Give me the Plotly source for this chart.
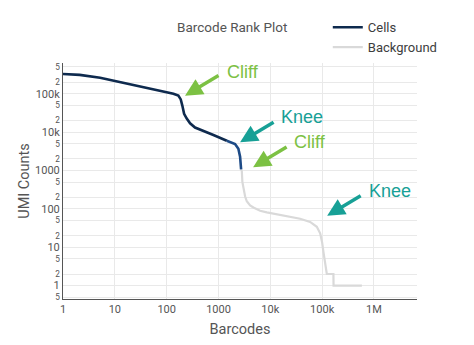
import math
import plotly.graph_objects as go

# ---- data ----
cells_rank = [1, 2.1, 5.2, 12.6, 30.6, 74.6, 100, 135, 168, 187, 201, 217, 244, 283, 353, 511, 798, 1445]
cells_umi = [327000, 309000, 260000, 202000, 158000, 121000, 112000, 100000, 89000, 71000, 48300, 30000,
             22500, 16900, 13100, 10500, 8380, 5940]

mixed_rank = [1445, 2090, 2420, 2611, 2731]
mixed_umi = [5940, 4890, 3670, 2280, 1064]

bg_rank = [2731, 2817, 2893, 3023, 3265, 3516, 4075, 4720, 6350, 8550, 17900, 37600, 58600, 73300,
           78900, 91500, 100000, 106000, 114000, 119000, 123000, 165000, 166000, 584000]
bg_umi = [1064, 966, 494, 339, 209, 157, 123, 108, 89, 81, 66.6, 55, 45.6, 37.6,
          34, 23, 13.2, 7.4, 4.2, 2.6, 2, 2, 1, 1]

# annotations: label, text position (rank, umi), arrow tip (rank, umi), colour
ann_labels = ["Cliff", "Knee", "Cliff", "Knee"]
ann_text_rank = [2985, 41100, 58700, 2050000]
ann_text_umi = [373000, 25300, 5390, 290]
ann_tip_rank = [226, 2611, 4655, 125000]
ann_tip_umi = [89000, 5390, 1216, 65.5]
ann_colors = ["#7cc143", "#17a096", "#7cc143", "#17a096"]

NAVY = "#0e2a4e"
MIXED = "#1d4a86"
GREY = "#d9d9d9"

fig = go.Figure()
fig.add_trace(go.Scatter(x=cells_rank, y=cells_umi, mode="lines", name="Cells",
                         line=dict(color=NAVY, width=2.6)))
fig.add_trace(go.Scatter(x=bg_rank, y=bg_umi, mode="lines", name="Background",
                         line=dict(color=GREY, width=2.2)))
fig.add_trace(go.Scatter(x=mixed_rank, y=mixed_umi, mode="lines", showlegend=False,
                         line=dict(color=MIXED, width=2.6)))

annotations = []
for lab, tr, tu, ar, au, col in zip(ann_labels, ann_text_rank, ann_text_umi,
                                     ann_tip_rank, ann_tip_umi, ann_colors):
    annotations.append(dict(x=math.log10(ar), y=math.log10(au), xref="x", yref="y",
                            text="", showarrow=True, ax=35, ay=-21,
                            arrowhead=2, arrowsize=1, arrowwidth=3.5,
                            arrowcolor=col, standoff=0))
    annotations.append(dict(x=math.log10(tr), y=math.log10(tu), xref="x", yref="y",
                            text=lab, showarrow=False,
                            font=dict(family="Liberation Sans, Arial", size=18, color=col)))

fig.update_layout(
    width=474, height=345,
    margin=dict(l=63, r=57, t=52, b=46),
    paper_bgcolor="white", plot_bgcolor="white",
    font=dict(family="Roboto", color="#555555", size=11),
    title=dict(text="Barcode Rank Plot", x=0.49, xref="container", y=0.922,
               yref="container", xanchor="center", yanchor="middle",
               font=dict(size=13.5, color="#555555")),
    legend=dict(x=0.748, y=1.215, xanchor="left", yanchor="top",
                font=dict(size=13, color="#3d3d3d"), bgcolor="rgba(0,0,0,0)",
                tracegroupgap=0, itemwidth=30),
    annotations=annotations,
)
fig.update_xaxes(type="log", range=[0, 6.83], dtick=1, showgrid=True,
                 gridcolor="#e9e9e9", showline=True, linecolor="#555555", linewidth=1,
                 zeroline=False, ticks="", tickfont=dict(size=11, color="#555555"),
                 title=dict(text="Barcodes", font=dict(size=14.5, color="#555555"), standoff=8))
fig.update_yaxes(type="log", range=[-0.35, 5.8], dtick="D2", showgrid=True,
                 gridcolor="#e9e9e9", showline=True, linecolor="#555555", linewidth=1,
                 zeroline=False, ticks="", tickfont=dict(size=11, color="#555555"),
                 title=dict(text="UMI Counts", font=dict(size=14.5, color="#555555"), standoff=1))

fig.write_html("out.html")
